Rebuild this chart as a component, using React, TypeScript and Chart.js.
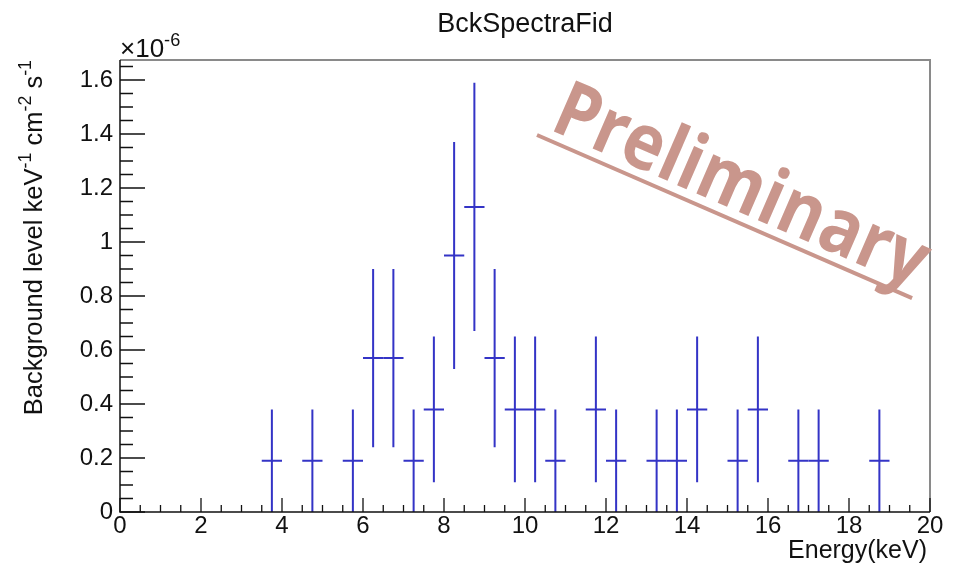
import { useEffect, useRef } from "react";
import { Chart, registerables } from "chart.js";

Chart.register(...registerables);

// ---- data (values in units of 1e-6 keV^-1 cm^-2 s^-1) ----
const binCenters = [3.75, 4.75, 5.75, 6.25, 6.75, 7.25, 7.75, 8.25, 8.75, 9.25, 9.75, 10.25, 10.75, 11.75, 12.25, 13.25, 13.75, 14.25, 15.25, 15.75, 16.75, 17.25, 18.75];
const levels = [0.19, 0.19, 0.19, 0.57, 0.57, 0.19, 0.38, 0.95, 1.13, 0.57, 0.38, 0.38, 0.19, 0.38, 0.19, 0.19, 0.19, 0.38, 0.19, 0.38, 0.19, 0.19, 0.19];
const levelErrors = [0.19, 0.19, 0.19, 0.33, 0.33, 0.19, 0.27, 0.42, 0.46, 0.33, 0.27, 0.27, 0.19, 0.27, 0.19, 0.19, 0.19, 0.27, 0.19, 0.27, 0.19, 0.19, 0.19];
const binHalfWidth = 0.25;
const xTickValues = [0, 2, 4, 6, 8, 10, 12, 14, 16, 18, 20];
const yTickValues = [0, 0.2, 0.4, 0.6, 0.8, 1, 1.2, 1.4, 1.6];
const xMinorStep = 0.5;
const yMinorStep = 0.05;
const xRange = [0, 20];
const yRange = [0, 1.674];

const titleText = "BckSpectraFid";
const xTitleText = "Energy(keV)";
const yTitleParts = [
  { t: "Background level keV" },
  { t: "-1", sup: true },
  { t: " cm" },
  { t: "-2", sup: true },
  { t: " s" },
  { t: "-1", sup: true },
];
const exponentParts = [{ t: "\u00d710" }, { t: "-6", sup: true }];
const watermarkText = "Preliminary";

const FONT = "'Liberation Sans', Arial, Helvetica, sans-serif";
const BAR_COLOR = "#3434c6";
const WM_COLOR = "rgb(201,150,140)";

type Part = { t: string; sup?: boolean };

function richWidth(ctx: CanvasRenderingContext2D, parts: Part[], size: number) {
  let w = 0;
  for (const p of parts) {
    ctx.font = `${p.sup ? size * 0.7 : size}px ${FONT}`;
    w += ctx.measureText(p.t).width;
  }
  return w;
}

function drawRich(ctx: CanvasRenderingContext2D, parts: Part[], size: number, x: number, y: number) {
  let cx = x;
  ctx.textBaseline = "alphabetic";
  ctx.textAlign = "left";
  for (const p of parts) {
    const s = p.sup ? size * 0.7 : size;
    ctx.font = `${s}px ${FONT}`;
    ctx.fillText(p.t, cx, p.sup ? y - size * 0.42 : y);
    cx += ctx.measureText(p.t).width;
  }
}

const rootPlugin = {
  id: "rootStyle",
  afterDatasetsDraw(chart: any) {
    const ctx: CanvasRenderingContext2D = chart.ctx;
    const xs = chart.scales.x;
    const ys = chart.scales.y;
    ctx.save();
    ctx.strokeStyle = BAR_COLOR;
    ctx.lineWidth = 2;
    for (let i = 0; i < binCenters.length; i++) {
      const px = xs.getPixelForValue(binCenters[i]);
      const pl = xs.getPixelForValue(binCenters[i] - binHalfWidth);
      const pr = xs.getPixelForValue(binCenters[i] + binHalfWidth);
      const py = ys.getPixelForValue(levels[i]);
      const pt = ys.getPixelForValue(levels[i] + levelErrors[i]);
      const pb = ys.getPixelForValue(Math.max(0, levels[i] - levelErrors[i]));
      ctx.beginPath();
      ctx.moveTo(px, pt);
      ctx.lineTo(px, pb);
      ctx.moveTo(pl, py);
      ctx.lineTo(pr, py);
      ctx.stroke();
    }
    ctx.restore();
  },
  afterDraw(chart: any) {
    const ctx: CanvasRenderingContext2D = chart.ctx;
    const a = chart.chartArea;
    const xs = chart.scales.x;
    const ys = chart.scales.y;
    ctx.save();
    // frame
    ctx.strokeStyle = "#8a8a8a";
    ctx.lineWidth = 2;
    ctx.beginPath();
    ctx.moveTo(a.left, a.top);
    ctx.lineTo(a.right, a.top);
    ctx.lineTo(a.right, a.bottom);
    ctx.stroke();
    ctx.strokeStyle = "#111";
    ctx.lineWidth = 1.5;
    ctx.beginPath();
    ctx.moveTo(a.left, a.top);
    ctx.lineTo(a.left, a.bottom);
    ctx.lineTo(a.right, a.bottom);
    ctx.stroke();
    // inward ticks
    ctx.lineWidth = 1.3;
    ctx.beginPath();
    for (let v = xRange[0]; v <= xRange[1] + 1e-9; v += xMinorStep) {
      const major = xTickValues.some((t) => Math.abs(t - v) < 1e-6);
      const px = xs.getPixelForValue(v);
      ctx.moveTo(px, a.bottom);
      ctx.lineTo(px, a.bottom - (major ? 14 : 7));
    }
    for (let v = yRange[0]; v <= yRange[1] + 1e-9; v += yMinorStep) {
      const major = yTickValues.some((t) => Math.abs(t - v) < 1e-6);
      const py = ys.getPixelForValue(v);
      ctx.moveTo(a.left, py);
      ctx.lineTo(a.left + (major ? 25 : 13), py);
    }
    ctx.stroke();

    ctx.fillStyle = "#111";
    // title
    ctx.font = `27px ${FONT}`;
    ctx.textAlign = "center";
    ctx.textBaseline = "alphabetic";
    ctx.fillText(titleText, (a.left + a.right) / 2 + 0, 32);
    // exponent
    drawRich(ctx, exponentParts, 26, a.left, 57);
    // x title
    ctx.font = `25px ${FONT}`;
    ctx.textAlign = "right";
    ctx.fillText(xTitleText, a.right - 3, 558);
    // y title
    const ysz = 25.5;
    const w = richWidth(ctx, yTitleParts, ysz);
    ctx.save();
    ctx.translate(42, a.top);
    ctx.rotate(-Math.PI / 2);
    drawRich(ctx, yTitleParts, ysz, -w, 0);
    ctx.restore();

    // watermark
    ctx.save();
    ctx.translate(537, 135);
    ctx.rotate((23.5 * Math.PI) / 180);
    ctx.fillStyle = WM_COLOR;
    ctx.fillRect(0, -2, 409, 4);
    const fs = 78;
    ctx.font = `bold ${fs}px 'Open Sans', 'Noto Sans', sans-serif`;
    const mw = ctx.measureText(watermarkText).width;
    ctx.translate(8, -10);
    ctx.scale(400 / mw, 1);
    ctx.textAlign = "left";
    ctx.textBaseline = "alphabetic";
    ctx.fillText(watermarkText, 0, 0);
    ctx.restore();

    ctx.restore();
  },
};

export default function App() {
  const ref = useRef<HTMLCanvasElement>(null);
  useEffect(() => {
    document.body.style.margin = "0";
    const canvas = ref.current;
    if (!canvas) return;
    const chart = new Chart(canvas, {
      type: "scatter",
      data: {
        datasets: [
          {
            label: "BckSpectraFid",
            data: binCenters.map((x, i) => ({ x, y: levels[i] })),
            pointRadius: 0,
            showLine: false,
            borderColor: BAR_COLOR,
            backgroundColor: BAR_COLOR,
          },
        ],
      },
      options: {
        responsive: false,
        animation: false,
        layout: { padding: { top: 60, right: 27, left: 0, bottom: 0 } },
        plugins: {
          legend: { display: false },
          title: { display: false },
          tooltip: { enabled: false },
        },
        scales: {
          x: {
            type: "linear",
            min: xRange[0],
            max: xRange[1],
            grid: { display: false, drawTicks: false },
            border: { display: false },
            afterBuildTicks: (s: any) => {
              s.ticks = xTickValues.map((v) => ({ value: v }));
            },
            afterFit: (s: any) => {
              s.height = 57;
            },
            ticks: {
              padding: 0,
              color: "#111",
              font: { family: FONT, size: 24 },
              maxRotation: 0,
              autoSkip: false,
              callback: (v: any) => String(v),
            },
          },
          y: {
            type: "linear",
            min: yRange[0],
            max: yRange[1],
            grid: { display: false, drawTicks: false },
            border: { display: false },
            afterBuildTicks: (s: any) => {
              s.ticks = yTickValues.map((v) => ({ value: v }));
            },
            afterFit: (s: any) => {
              s.width = 120;
            },
            ticks: {
              padding: 7,
              color: "#111",
              font: { family: FONT, size: 24 },
              autoSkip: false,
              callback: (v: any) => String(Math.round(Number(v) * 10) / 10),
            },
          },
        },
      },
      plugins: [rootPlugin],
    });
    return () => chart.destroy();
  }, []);
  return <canvas ref={ref} width={957} height={569} style={{ display: "block" }} />;
}
